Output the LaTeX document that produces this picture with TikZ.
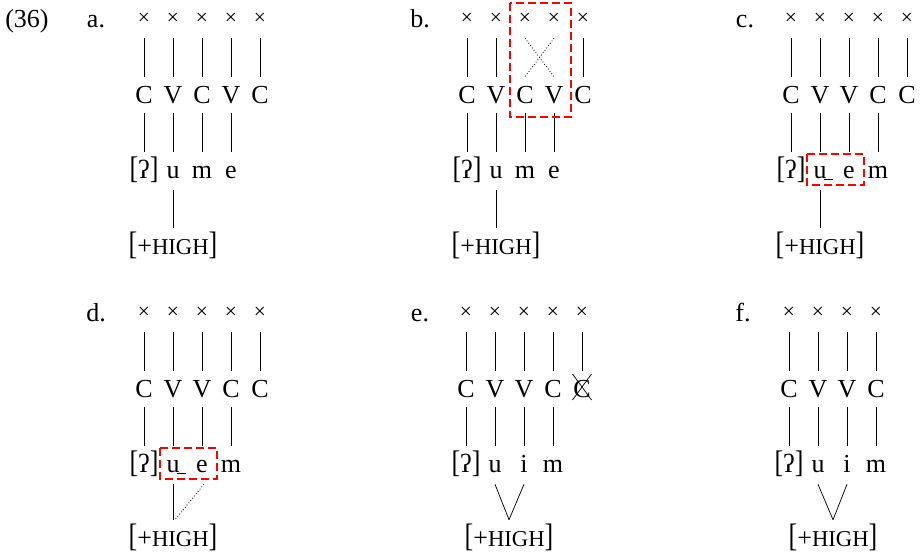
\documentclass[tikz,border=0pt]{standalone}
\usepackage{fontspec}
\setmainfont{Liberation Serif}
\usetikzlibrary{calc}
\newcommand\hsc{{\fontsize{17pt}{17pt}\selectfont HIGH}}
\newcommand\lbk{\scalebox{1}[1.2]{[}}
\newcommand\rbk{\scalebox{1}[1.2]{]}}
\newcommand\Lbk{\scalebox{1}[1.25]{[}}
\newcommand\Rbk{\scalebox{1}[1.25]{]}}
\newcommand\feat{\Lbk+\hsc\Rbk}
\newcommand\glot{\lbk ʔ\rbk}
\begin{document}
\begin{tikzpicture}[x=0.75pt,y=-0.75pt,
  font=\fontsize{19.5pt}{23pt}\selectfont,
  xm/.style={inner sep=0pt, minimum height=28.5pt, font=\fontsize{16pt}{16pt}\selectfont},
  cv/.style={anchor=base, inner sep=0pt, text height=19.5pt, text depth=7.5pt},
  sg/.style={anchor=base, inner sep=0pt, text height=19.5pt, text depth=9pt},
  hi/.style={anchor=base, inner sep=0pt, text height=19.5pt, text depth=0pt},
  lbl/.style={anchor=base, inner sep=0pt},
  assoc/.style={line width=0.55pt},
  dotl/.style={line width=0.65pt, dash pattern=on 0.6pt off 1.6pt},
  redbox/.style={draw=red, line width=1.3pt, dash pattern=on 6pt off 3pt},
  strike/.style={line width=0.55pt}]
\useasboundingbox (0,0) rectangle (920,554);
% labels
\node[lbl, anchor=base west] (num) at (5,27) {(36)};
\node[lbl] (la) at (96,27) {a.};
\node[lbl] (lb) at (420,27) {b.};
\node[lbl] (lc) at (745,27) {c.};
\node[lbl] (ld) at (96,321) {d.};
\node[lbl] (le) at (420,321) {e.};
\node[lbl] (lf) at (743,321) {f.};
% ---------- a ----------
\foreach \i/\c in {1/C,2/V,3/C,4/V,5/C}{
  \node[xm] (ax\i) at ({144+29*(\i-1)},19) {×};
  \node[cv] (ac\i) at ({144+29*(\i-1)},103) {\c};
  \draw[assoc] (ax\i.south) -- (ac\i.north);
}
\foreach \i/\s in {1/\glot,2/u,3/m,4/e}{
  \node[sg] (as\i) at ({144+29*(\i-1)},178) {\s};
  \draw[assoc] (ac\i.south) -- (as\i.north);
}
\node[hi] (ah) at (173,254) {\feat};
\draw[assoc] (as2.south) -- (ah.north);
% ---------- b ----------
\foreach \i/\c in {1/C,2/V,3/C,4/V,5/C}{
  \node[xm] (bx\i) at ({467+29*(\i-1)},19) {×};
  \node[cv] (bc\i) at ({467+29*(\i-1)},103) {\c};
}
\foreach \i in {1,2,5}{\draw[assoc] (bx\i.south) -- (bc\i.north);}
\draw[dotl] (bx3.south) -- (bc4.north);
\draw[dotl] (bx4.south) -- (bc3.north);
\foreach \i/\s in {1/\glot,2/u,3/m,4/e}{
  \node[sg] (bs\i) at ({467+29*(\i-1)},178) {\s};
  \draw[assoc] (bc\i.south) -- (bs\i.north);
}
\node[hi] (bh) at (496,254) {\feat};
\draw[assoc] (bs2.south) -- (bh.north);
\draw[redbox] (510,3) rectangle (571,117);
% ---------- c ----------
\foreach \i/\c in {1/C,2/V,3/V,4/C,5/C}{
  \node[xm] (cx\i) at ({791+29*(\i-1)},19) {×};
  \node[cv] (cc\i) at ({791+29*(\i-1)},103) {\c};
  \draw[assoc] (cx\i.south) -- (cc\i.north);
}
\foreach \i/\s in {1/\glot,2/u,3/e,4/m}{
  \node[sg] (cs\i) at ({791+29*(\i-1)},178) {\s};
  \draw[assoc] (cc\i.south) -- (cs\i.north);
}
\node[hi] (ch) at (820,254) {\feat};
\draw[assoc] (cs2.south) -- (ch.north);
\draw[assoc] ($(cs2.base)+(4,1)$) -- ($(cs2.base)+(13,1)$);
\draw[redbox] (807,154) rectangle (864,185);
% ---------- d ----------
\foreach \i/\c in {1/C,2/V,3/V,4/C,5/C}{
  \node[xm] (dx\i) at ({144+29*(\i-1)},313) {×};
  \node[cv] (dc\i) at ({144+29*(\i-1)},397) {\c};
  \draw[assoc] (dx\i.south) -- (dc\i.north);
}
\foreach \i/\s in {1/\glot,2/u,3/e,4/m}{
  \node[sg] (ds\i) at ({144+29*(\i-1)},472) {\s};
  \draw[assoc] (dc\i.south) -- (ds\i.north);
}
\node[hi] (dh) at (173,546) {\feat};
\draw[assoc] (ds2.south) -- (dh.north);
\draw[dotl] ([xshift=1.5pt]ds3.south) -- ([xshift=1.5pt]dh.north);
\draw[assoc] ($(ds2.base)+(4,1)$) -- ($(ds2.base)+(13,1)$);
\draw[redbox] (160,448) rectangle (217,479);
% ---------- e ----------
\foreach \i/\c in {1/C,2/V,3/V,4/C,5/C}{
  \node[xm] (ex\i) at ({466+29*(\i-1)},313) {×};
  \node[cv] (ec\i) at ({466+29*(\i-1)},397) {\c};
  \draw[assoc] (ex\i.south) -- (ec\i.north);
}
\draw[strike] ($(ec5.base)+(-9.5,-23)$) -- ($(ec5.base)+(9.5,3)$);
\draw[strike] ($(ec5.base)+(9.5,-23)$) -- ($(ec5.base)+(-9.5,3)$);
\foreach \i/\s in {1/\glot,2/u,3/i,4/m}{
  \node[sg] (es\i) at ({466+29*(\i-1)},472) {\s};
  \draw[assoc] (ec\i.south) -- (es\i.north);
}
\node[hi] (eh) at (509,546) {\feat};
\draw[assoc] (es2.south) -- (eh.north);
\draw[assoc] (es3.south) -- (eh.north);
% ---------- f ----------
\foreach \i/\c in {1/C,2/V,3/V,4/C}{
  \node[xm] (fx\i) at ({789+29*(\i-1)},313) {×};
  \node[cv] (fc\i) at ({789+29*(\i-1)},397) {\c};
  \draw[assoc] (fx\i.south) -- (fc\i.north);
}
\foreach \i/\s in {1/\glot,2/u,3/i,4/m}{
  \node[sg] (fs\i) at ({789+29*(\i-1)},472) {\s};
  \draw[assoc] (fc\i.south) -- (fs\i.north);
}
\node[hi] (fh) at (833,546) {\feat};
\draw[assoc] (fs2.south) -- (fh.north);
\draw[assoc] (fs3.south) -- (fh.north);
\end{tikzpicture}
\end{document}
